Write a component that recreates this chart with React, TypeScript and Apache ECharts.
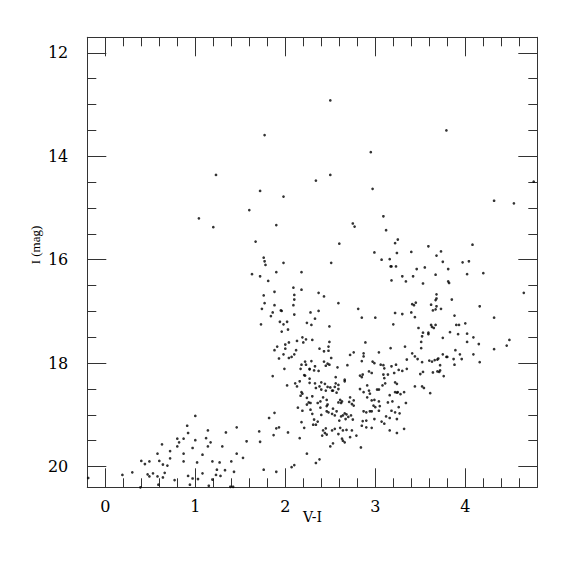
import React, { useEffect, useRef } from "react";
import * as echarts from "echarts";

// V-I colour index of each star
const vi: number[] = [
  // bright, sparse stars
  2.50, 3.79, 1.77, 2.95, 1.23, 2.50, 2.34, 4.76, 1.72, 2.97, 1.98, 4.32, 4.54, 1.60, 1.04, 3.09, 1.20, 1.90, 2.75, 2.77, 3.12,
  // 15.6 - 17.4
  2.60, 3.25, 3.22, 4.08, 3.59, 3.73, 3.40, 2.99, 3.24, 3.68, 1.76, 1.77, 1.78, 1.98, 2.51, 3.07, 3.16, 3.75, 3.97, 4.04,
  3.17, 3.18, 3.23, 3.46, 3.55, 3.81, 1.72, 1.90, 2.18, 3.30, 3.42, 3.67, 4.02, 4.20, 1.81, 3.34, 3.18, 3.81, 3.82, 3.53,
  2.09, 2.18, 1.88, 2.37, 2.43, 2.10, 2.10, 1.76, 3.68, 3.68, 3.67, 3.85, 4.65, 1.77, 1.88, 2.09, 2.59, 3.41, 3.43, 3.45,
  3.62, 3.68, 3.64, 3.67, 3.73, 4.16, 1.74, 1.86, 1.84, 1.95, 1.96, 2.10, 2.28, 2.37, 2.33, 2.81, 2.85, 3.00, 3.22, 3.30,
  3.40, 3.44, 3.88, 4.32, 1.73, 1.94, 1.98, 2.02, 2.03, 2.24, 2.29, 2.49, 3.20, 3.48, 3.62, 3.63, 3.65, 3.67, 3.90, 3.93, 4.00,
  1.67, 1.63,
  // left branch 17.4 - 18.1
  1.96, 2.19, 2.23, 2.13, 2.30, 2.20, 2.04, 2.00, 1.91, 1.88, 2.00, 2.12, 1.98, 2.07, 1.93, 2.10, 2.04, 2.38, 2.43, 2.48,
  2.48, 2.29, 2.22, 2.18, 2.23, 2.17, 2.27, 1.99, 2.33, 2.43, 2.47,
  // left branch 18.1 - 20.4
  1.86, 2.02, 2.21, 2.22, 2.27, 2.32, 2.37, 2.45, 2.49, 2.27, 2.27, 2.33, 2.11, 2.13, 2.16, 2.40, 2.44, 2.38, 2.34, 2.47,
  2.18, 2.19, 2.17, 2.24, 2.26, 2.24, 2.30, 2.28, 2.42, 2.39, 2.46, 2.47, 2.46, 2.36, 2.14, 2.19, 2.28, 2.30, 2.39, 2.46,
  2.48, 2.40, 1.88, 1.82, 2.32, 2.36, 2.31, 2.34, 2.18, 2.21, 1.90, 1.93, 2.03, 1.87, 1.71, 2.42, 2.45, 2.44, 2.41, 2.46,
  2.16, 1.46, 1.34, 1.14, 1.57, 1.72, 1.12, 1.17, 1.14, 1.30, 1.08, 1.46, 1.53, 1.19, 1.27, 1.40, 1.24, 1.33, 1.43, 1.23,
  1.28, 1.08, 1.19, 1.15, 1.39, 1.42, 1.76, 1.90, 2.07, 2.10, 2.24, 2.34, 2.38, 2.40, 2.45,
  // central clump
  2.89, 3.17, 3.33, 3.51, 3.51, 2.49, 2.51, 2.76, 2.72, 2.87, 2.87, 3.04, 3.41, 3.44, 3.47, 3.52, 3.35, 3.60, 3.63, 3.69,
  2.85, 2.97, 2.99, 3.06, 3.09, 2.58, 2.69, 3.18, 3.23, 3.26, 3.30, 3.21, 3.35, 3.10, 3.14, 2.96, 2.93, 2.85, 2.83, 2.86,
  3.09, 3.10, 3.53, 3.50, 3.64, 3.69, 2.56, 2.66, 2.66, 3.22, 3.24, 3.11, 3.08, 2.91, 3.44, 3.52, 3.54, 2.50, 2.52, 2.56,
  2.59, 2.55, 2.59, 2.53, 2.57, 2.83, 2.87, 2.93, 2.94, 3.02, 3.04, 3.22, 3.24, 3.25, 3.16, 3.28, 3.32, 2.72, 2.76, 2.71,
  2.74, 2.76, 2.61, 2.63, 2.59, 2.62, 2.91, 2.96, 2.99, 3.04, 3.14, 3.19, 2.98, 3.00, 2.96, 3.05, 3.04, 3.26, 2.87, 2.94,
  2.90, 2.53, 2.57, 2.52, 2.55, 2.66, 2.68, 2.64, 2.70, 2.73, 2.75, 2.67, 2.62, 2.60, 2.86, 2.90, 2.85, 2.90, 2.96, 2.99,
  3.07, 3.10, 3.16, 2.55, 2.61, 2.64, 2.52, 2.59, 2.68, 2.74, 2.72, 2.79, 2.63, 2.64, 2.66, 2.50, 2.53, 2.84, 3.16, 3.32,
  3.24, 3.12, 3.18, 3.22, 3.27, 3.24, 3.61, 3.34,
  // red branch 17.4 - 18.3
  3.53, 3.52, 3.59, 3.59, 3.83, 3.92, 4.02, 4.09, 3.75, 4.02, 4.15, 4.49, 4.46, 4.32, 3.89, 4.09, 3.75, 3.79, 3.80, 3.94,
  3.96, 3.87, 4.16, 3.66, 3.70, 3.72, 3.88, 3.72, 3.71, 3.76,
  // faint blue stars
  -0.19, 0.19, 0.30, 0.40, 0.44, 0.49, 0.47, 0.49, 0.53, 0.58, 0.60, 0.63, 0.64, 0.69, 0.66, 0.58, 0.64, 0.59, 0.72, 0.72,
  0.77, 0.80, 0.82, 0.80, 0.87, 0.87, 0.87, 0.91, 0.92, 1.00, 1.00, 0.97, 0.92, 0.97, 1.03, 0.94, 1.02, 0.35, 0.39,
];

// I magnitude of each star (same order as vi)
const iMag: number[] = [
  12.92, 13.50, 13.59, 13.92, 14.36, 14.36, 14.47, 14.49, 14.67, 14.63, 14.78, 14.86, 14.91, 15.04, 15.20, 15.16, 15.37, 15.33, 15.30, 15.36, 15.43,
  15.69, 15.61, 15.68, 15.71, 15.74, 15.84, 15.85, 15.86, 15.87, 15.92, 15.96, 16.03, 16.10, 16.06, 16.06, 16.00, 15.99, 16.04, 16.05, 16.03,
  16.13, 16.13, 16.13, 16.18, 16.15, 16.18, 16.32, 16.24, 16.24, 16.32, 16.32, 16.29, 16.28, 16.26, 16.41, 16.42, 16.40, 16.42, 16.45, 16.46,
  16.54, 16.58, 16.62, 16.64, 16.71, 16.68, 16.77, 16.69, 16.67, 16.75, 16.78, 16.77, 16.64, 16.84, 16.88, 16.88, 16.84, 16.86, 16.88, 16.83,
  16.87, 16.90, 16.98, 16.96, 16.95, 16.90, 16.95, 17.02, 17.09, 16.98, 16.99, 17.06, 17.02, 16.99, 17.14, 16.95, 17.12, 17.12, 17.03, 17.05,
  17.02, 17.11, 17.08, 17.12, 17.25, 17.20, 17.25, 17.20, 17.35, 17.22, 17.26, 17.29, 17.25, 17.32, 17.26, 17.30, 17.32, 17.26, 17.26, 17.26, 17.23,
  15.65, 16.28,
  17.39, 17.50, 17.54, 17.57, 17.55, 17.60, 17.60, 17.64, 17.68, 17.75, 17.72, 17.75, 17.83, 17.88, 17.91, 17.83, 17.90, 17.72, 17.77, 17.68,
  17.76, 17.96, 17.97, 18.03, 18.03, 18.11, 18.11, 18.11, 18.06, 17.97, 18.01,
  18.25, 18.43, 18.23, 18.24, 18.12, 18.14, 18.15, 18.05, 18.03, 18.30, 18.38, 18.39, 18.39, 18.45, 18.35, 18.37, 18.40, 18.45, 18.48, 18.46,
  18.56, 18.59, 18.63, 18.67, 18.76, 18.80, 18.64, 18.77, 18.66, 18.74, 18.71, 18.80, 18.83, 18.77, 18.86, 18.92, 18.90, 18.98, 18.86, 18.93,
  18.95, 19.00, 18.96, 19.06, 19.09, 19.13, 19.19, 19.19, 19.14, 19.25, 19.26, 19.24, 19.34, 19.39, 19.32, 19.30, 19.26, 19.35, 19.40, 19.38,
  19.45, 19.24, 19.34, 19.30, 19.51, 19.52, 19.45, 19.53, 19.61, 19.61, 19.77, 19.75, 19.83, 19.90, 19.92, 19.90, 20.06, 20.07, 20.10, 20.16,
  20.18, 20.13, 20.25, 20.37, 20.39, 20.39, 20.06, 20.10, 20.01, 19.97, 19.75, 19.93, 19.86, 18.51, 18.53,
  17.60, 17.71, 17.68, 17.59, 17.71, 17.59, 17.90, 17.79, 17.84, 17.81, 17.87, 17.79, 17.81, 17.87, 17.92, 17.98, 17.93, 17.95, 17.97, 17.93,
  17.96, 17.97, 18.00, 18.03, 18.04, 18.08, 18.04, 18.06, 18.03, 18.13, 18.15, 18.19, 18.11, 18.10, 18.22, 18.19, 18.16, 18.27, 18.24, 18.22,
  18.22, 18.29, 18.17, 18.21, 18.18, 18.16, 18.27, 18.32, 18.35, 18.37, 18.40, 18.39, 18.43, 18.43, 18.45, 18.45, 18.48, 18.47, 18.53, 18.39,
  18.42, 18.46, 18.50, 18.53, 18.57, 18.50, 18.56, 18.53, 18.59, 18.51, 18.51, 18.56, 18.57, 18.56, 18.62, 18.60, 18.56, 18.66, 18.72, 18.75,
  18.79, 18.82, 18.71, 18.74, 18.76, 18.77, 18.66, 18.72, 18.71, 18.74, 18.76, 18.74, 18.82, 18.85, 18.93, 18.83, 18.92, 18.85, 18.93, 18.93,
  18.95, 18.88, 18.93, 18.98, 19.01, 18.97, 18.99, 19.01, 19.04, 19.01, 19.09, 19.08, 19.03, 19.11, 19.12, 19.11, 19.21, 19.24, 19.25, 19.08,
  19.13, 19.17, 19.06, 19.27, 19.25, 19.30, 19.30, 19.37, 19.29, 19.30, 19.43, 19.40, 19.46, 19.50, 19.53, 19.61, 19.55, 19.63, 19.30, 19.27,
  19.35, 19.03, 18.92, 18.95, 18.97, 19.08, 18.58, 18.77,
  17.41, 17.48, 17.41, 17.44, 17.40, 17.44, 17.43, 17.50, 17.51, 17.59, 17.63, 17.55, 17.66, 17.73, 17.75, 17.83, 17.83, 17.88, 17.88, 17.83,
  17.92, 17.92, 17.98, 17.94, 17.91, 18.04, 18.03, 18.14, 18.17, 18.25,
  20.22, 20.16, 20.11, 19.89, 19.95, 19.90, 20.15, 20.19, 20.13, 19.75, 19.89, 19.57, 19.96, 19.98, 20.12, 20.19, 20.21, 20.35, 19.70, 19.84,
  20.26, 19.46, 19.53, 19.61, 19.46, 19.75, 19.90, 19.21, 19.35, 19.02, 19.49, 19.64, 20.18, 20.23, 20.24, 20.35, 19.92, 20.41, 20.40,
];

const xMajorTicks = [0, 1, 2, 3, 4];
const xMinorTicks = [0.2, 0.4, 0.6, 0.8, 1.2, 1.4, 1.6, 1.8, 2.2, 2.4, 2.6, 2.8, 3.2, 3.4, 3.6, 3.8, 4.2, 4.4, 4.6];
const yMajorTicks = [12, 14, 16, 18, 20];
const yMinorTicks = [12.5, 13, 13.5, 14.5, 15, 15.5, 16.5, 17, 17.5, 18.5, 19, 19.5];

const xTitle = "V-I";
const yTitle = "I (mag)";

export default function App() {
  const ref = useRef<HTMLDivElement>(null);

  useEffect(() => {
    if (!ref.current) return;
    const chart = echarts.init(ref.current, null, { renderer: "svg" });
    const n = Math.min(vi.length, iMag.length);
    const points: number[][] = [];
    for (let i = 0; i < n; i++) points.push([vi[i], iMag[i]]);

    const font = "DejaVu Serif";
    const lineColor = "#333";
    const xBase = { type: "value" as const, min: -0.2, max: 4.8, gridIndex: 0, splitLine: { show: false } };
    const yBase = { type: "value" as const, min: 11.7, max: 20.4, inverse: true, gridIndex: 0, splitLine: { show: false } };

    chart.setOption({
      animation: false,
      backgroundColor: "#fff",
      grid: { left: 87.3, right: 37.7, top: 37.3, bottom: 87.7 },
      xAxis: [
        {
          ...xBase,
          position: "bottom",
          axisLine: { show: true, onZero: false, lineStyle: { color: lineColor, width: 1 } },
          axisTick: { show: true, inside: true, length: 19, customValues: xMajorTicks, lineStyle: { color: lineColor } },
          axisLabel: { show: true, customValues: xMajorTicks, margin: 11, fontFamily: font, fontSize: 16, color: "#000" },
        },
        {
          ...xBase,
          position: "bottom",
          axisLine: { show: false, onZero: false },
          axisTick: { show: true, inside: true, length: 9, customValues: xMinorTicks, lineStyle: { color: lineColor } },
          axisLabel: { show: false },
        },
        {
          ...xBase,
          position: "top",
          axisLine: { show: true, onZero: false, lineStyle: { color: lineColor, width: 1 } },
          axisTick: { show: true, inside: true, length: 19, customValues: xMajorTicks, lineStyle: { color: lineColor } },
          axisLabel: { show: false },
        },
        {
          ...xBase,
          position: "top",
          axisLine: { show: false, onZero: false },
          axisTick: { show: true, inside: true, length: 9, customValues: xMinorTicks, lineStyle: { color: lineColor } },
          axisLabel: { show: false },
        },
      ],
      yAxis: [
        {
          ...yBase,
          position: "left",
          axisLine: { show: true, onZero: false, lineStyle: { color: lineColor, width: 1 } },
          axisTick: { show: true, inside: true, length: 19, customValues: yMajorTicks, lineStyle: { color: lineColor } },
          axisLabel: { show: true, customValues: yMajorTicks, margin: 19, fontFamily: font, fontSize: 16, color: "#000" },
        },
        {
          ...yBase,
          position: "left",
          axisLine: { show: false, onZero: false },
          axisTick: { show: true, inside: true, length: 9, customValues: yMinorTicks, lineStyle: { color: lineColor } },
          axisLabel: { show: false },
        },
        {
          ...yBase,
          position: "right",
          axisLine: { show: true, onZero: false, lineStyle: { color: lineColor, width: 1 } },
          axisTick: { show: true, inside: true, length: 19, customValues: yMajorTicks, lineStyle: { color: lineColor } },
          axisLabel: { show: false },
        },
        {
          ...yBase,
          position: "right",
          axisLine: { show: false, onZero: false },
          axisTick: { show: true, inside: true, length: 9, customValues: yMinorTicks, lineStyle: { color: lineColor } },
          axisLabel: { show: false },
        },
      ],
      graphic: [
        {
          type: "text",
          x: 312.5,
          y: 517,
          style: { text: xTitle, fontFamily: font, fontSize: 14, fill: "#000", align: "center", verticalAlign: "middle" },
        },
        {
          type: "text",
          x: 35,
          y: 245,
          rotation: Math.PI / 2,
          style: { text: yTitle, fontFamily: "Liberation Serif", fontSize: 13, fill: "#000", align: "center", verticalAlign: "middle" },
        },
      ],
      series: [
        {
          type: "scatter",
          xAxisIndex: 0,
          yAxisIndex: 0,
          data: points,
          symbol: "circle",
          symbolSize: 2.7,
          itemStyle: { color: "#000" },
          clip: true,
        },
      ],
    });

    return () => chart.dispose();
  }, []);

  return <div ref={ref} style={{ width: 575, height: 575, position: "absolute", left: 0, top: 0 }} />;
}
